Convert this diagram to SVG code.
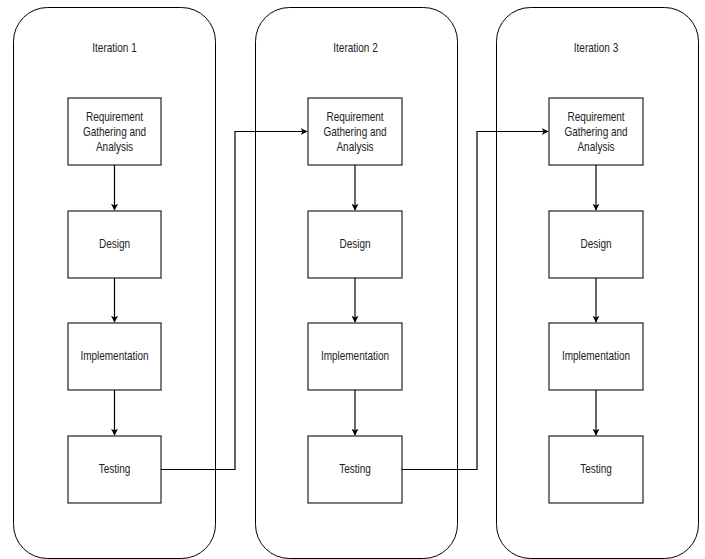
<svg xmlns="http://www.w3.org/2000/svg" width="705" height="559" viewBox="0 0 705 559">
<style>
.cont{fill:#fff;stroke:#000;stroke-width:1}
.box{fill:#fff;stroke:#222;stroke-width:1.2}
.t{font-family:"Liberation Sans",Arial,sans-serif;font-size:12.5px;fill:#222;text-anchor:middle}
.c{fill:none;stroke:#000;stroke-width:1.2}
</style>
<defs>
<marker id="ah" viewBox="0 0 10 10" refX="9" refY="5" markerWidth="7" markerHeight="7" markerUnits="userSpaceOnUse" orient="auto">
<path d="M0,0 L10,5 L0,10 L2.5,5 Z" fill="#000"/>
</marker>
</defs>
<rect width="705" height="559" fill="#fff"/>
<g id="iter1"><rect class="cont" x="13.5" y="7.5" width="202" height="551" rx="34" ry="34"/><text class="t" transform="translate(114.5,52) scale(0.8,1)">Iteration 1</text></g>
<g id="iter2"><rect class="cont" x="255.5" y="7.5" width="202" height="551" rx="34" ry="34"/><text class="t" transform="translate(355.5,52) scale(0.8,1)">Iteration 2</text></g>
<g id="iter3"><rect class="cont" x="496.5" y="7.5" width="202" height="551" rx="34" ry="34"/><text class="t" transform="translate(596,52) scale(0.8,1)">Iteration 3</text></g>

<g id="req1"><rect class="box" x="68" y="98" width="93" height="67"/><text class="t" transform="translate(114.5,121) scale(0.8,1)">Requirement</text><text class="t" transform="translate(114.5,136) scale(0.8,1)">Gathering and</text><text class="t" transform="translate(114.5,151) scale(0.8,1)">Analysis</text></g>
<g id="des1"><rect class="box" x="68" y="211" width="93" height="67"/><text class="t" transform="translate(114.5,248) scale(0.8,1)">Design</text></g>
<g id="imp1"><rect class="box" x="68" y="323" width="93" height="67"/><text class="t" transform="translate(114.5,360) scale(0.8,1)">Implementation</text></g>
<g id="test1"><rect class="box" x="68" y="436" width="93" height="67"/><text class="t" transform="translate(114.5,473) scale(0.8,1)">Testing</text></g>

<g id="req2"><rect class="box" x="308" y="98" width="94" height="67"/><text class="t" transform="translate(355,121) scale(0.8,1)">Requirement</text><text class="t" transform="translate(355,136) scale(0.8,1)">Gathering and</text><text class="t" transform="translate(355,151) scale(0.8,1)">Analysis</text></g>
<g id="des2"><rect class="box" x="308" y="211" width="94" height="67"/><text class="t" transform="translate(355,248) scale(0.8,1)">Design</text></g>
<g id="imp2"><rect class="box" x="308" y="323" width="94" height="67"/><text class="t" transform="translate(355,360) scale(0.8,1)">Implementation</text></g>
<g id="test2"><rect class="box" x="308" y="436" width="94" height="67"/><text class="t" transform="translate(355,473) scale(0.8,1)">Testing</text></g>

<g id="req3"><rect class="box" x="549" y="98" width="94" height="67"/><text class="t" transform="translate(596,121) scale(0.8,1)">Requirement</text><text class="t" transform="translate(596,136) scale(0.8,1)">Gathering and</text><text class="t" transform="translate(596,151) scale(0.8,1)">Analysis</text></g>
<g id="des3"><rect class="box" x="549" y="211" width="94" height="67"/><text class="t" transform="translate(596,248) scale(0.8,1)">Design</text></g>
<g id="imp3"><rect class="box" x="549" y="323" width="94" height="67"/><text class="t" transform="translate(596,360) scale(0.8,1)">Implementation</text></g>
<g id="test3"><rect class="box" x="549" y="436" width="94" height="67"/><text class="t" transform="translate(596,473) scale(0.8,1)">Testing</text></g>

<g id="connectors">
<path class="c" d="M114.5,165 V210" marker-end="url(#ah)"/>
<path class="c" d="M114.5,278 V322" marker-end="url(#ah)"/>
<path class="c" d="M114.5,390 V435" marker-end="url(#ah)"/>
<path class="c" d="M355,165 V210" marker-end="url(#ah)"/>
<path class="c" d="M355,278 V322" marker-end="url(#ah)"/>
<path class="c" d="M355,390 V435" marker-end="url(#ah)"/>
<path class="c" d="M596,165 V210" marker-end="url(#ah)"/>
<path class="c" d="M596,278 V322" marker-end="url(#ah)"/>
<path class="c" d="M596,390 V435" marker-end="url(#ah)"/>
<path class="c" d="M161,469.5 H235 V131.5 H307" marker-end="url(#ah)"/>
<path class="c" d="M402,469.5 H477 V131.5 H548" marker-end="url(#ah)"/>
</g>
</svg>
